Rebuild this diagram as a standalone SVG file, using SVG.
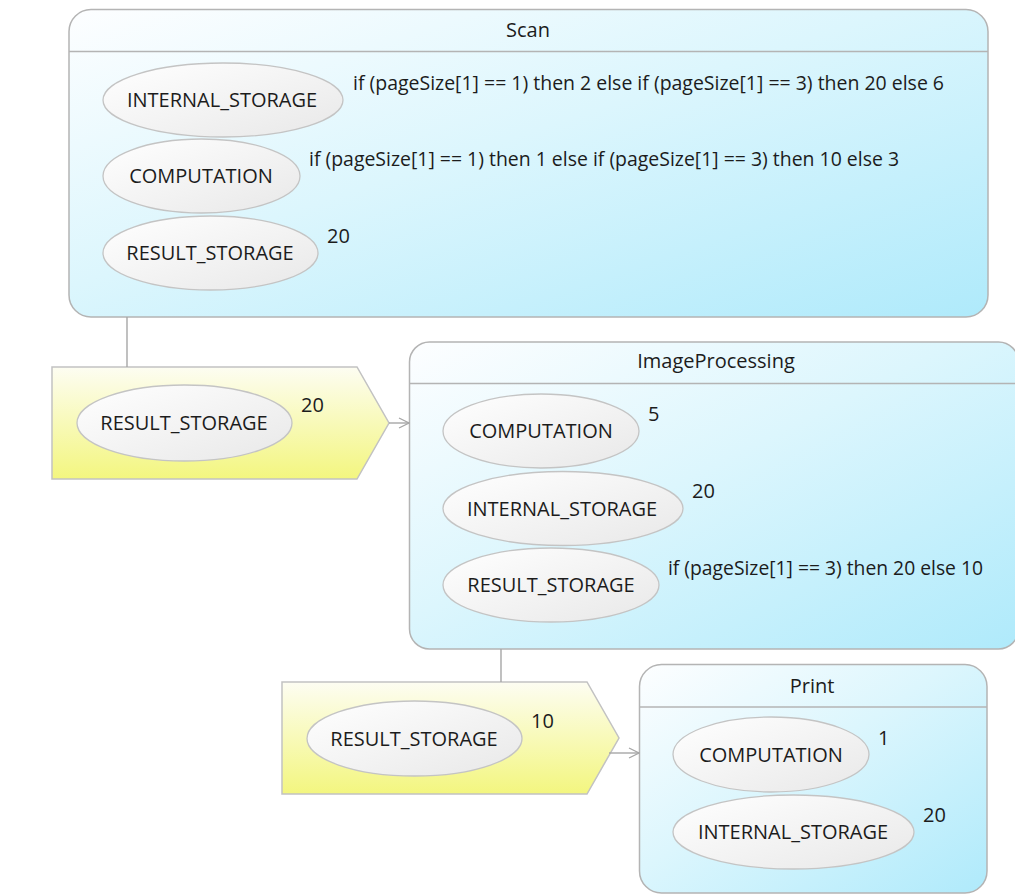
<svg xmlns="http://www.w3.org/2000/svg" width="1015" height="894" viewBox="0 0 1015 894">
  <defs>
    <linearGradient id="gState" x1="0" y1="0" x2="1" y2="1">
      <stop offset="0" stop-color="#fdfeff"/>
      <stop offset="0.45" stop-color="#dcf6fd"/>
      <stop offset="1" stop-color="#afeafb"/>
    </linearGradient>
    <linearGradient id="gRes" x1="0" y1="0" x2="1" y2="1">
      <stop offset="0" stop-color="#ffffff"/>
      <stop offset="1" stop-color="#e8e8e8"/>
    </linearGradient>
    <linearGradient id="gData" x1="0" y1="0" x2="0" y2="1">
      <stop offset="0" stop-color="#fdfdf2"/>
      <stop offset="1" stop-color="#f3f67f"/>
    </linearGradient>
    <marker id="open" viewBox="0 0 12 12" refX="11" refY="6" markerWidth="12" markerHeight="12" markerUnits="userSpaceOnUse" orient="auto">
      <path d="M1,1 L11,6 L1,11" fill="none" stroke="#a6a6a6" stroke-width="1.3"/>
    </marker>
  </defs>
  <style>
    .box { fill: url(#gState); stroke: #b4b4b4; stroke-width: 1.5; }
    .div { stroke: #b4b4b4; stroke-width: 1.5; }
    .res { fill: url(#gRes); stroke: #c4c4c4; stroke-width: 1.3; }
    .data { fill: url(#gData); stroke: #c2c2c2; stroke-width: 1.5; }
    .conn { fill: none; stroke: #a6a6a6; stroke-width: 1.4; }
    text { font-family: "Open Sans", "Noto Sans", "DejaVu Sans", sans-serif; font-size: 20px; fill: #1c1c1c; }
    .c { text-anchor: middle; }
  </style>

  <!-- Scan -->
  <g id="scan">
    <rect class="box" x="69" y="9.5" width="919" height="307.5" rx="22"/>
    <line class="div" x1="69" y1="51.5" x2="988" y2="51.5"/>
    <text class="c" x="528" y="37">Scan</text>
    <g id="scan-internal">
      <ellipse class="res" cx="223" cy="100" rx="120" ry="37"/>
      <text class="c" x="222" y="107">INTERNAL_STORAGE</text>
      <text x="353" y="90" textLength="591" lengthAdjust="spacingAndGlyphs">if (pageSize[1] == 1) then 2 else if (pageSize[1] == 3) then 20 else 6</text>
    </g>
    <g id="scan-computation">
      <ellipse class="res" cx="201.5" cy="176" rx="98.5" ry="37"/>
      <text class="c" x="201" y="183">COMPUTATION</text>
      <text x="309" y="166" textLength="590" lengthAdjust="spacingAndGlyphs">if (pageSize[1] == 1) then 1 else if (pageSize[1] == 3) then 10 else 3</text>
    </g>
    <g id="scan-result">
      <ellipse class="res" cx="210.5" cy="253" rx="107.5" ry="37"/>
      <text class="c" x="210" y="260">RESULT_STORAGE</text>
      <text x="327" y="243">20</text>
    </g>
  </g>

  <!-- data passed from Scan to ImageProcessing -->
  <g id="data-scan">
    <path class="data" d="M52,367 H357 L389,423 L357,479 H52 Z"/>
    <ellipse class="res" cx="184.5" cy="423" rx="107.5" ry="38"/>
    <text class="c" x="184" y="430">RESULT_STORAGE</text>
    <text x="301" y="412">20</text>
  </g>

  <!-- ImageProcessing -->
  <g id="image-processing">
    <rect class="box" x="409.5" y="342" width="609" height="307" rx="20"/>
    <line class="div" x1="409.5" y1="383.5" x2="1015" y2="383.5"/>
    <text class="c" x="716" y="368">ImageProcessing</text>
    <g id="ip-computation">
      <ellipse class="res" cx="541" cy="431" rx="98" ry="37"/>
      <text class="c" x="541" y="438">COMPUTATION</text>
      <text x="648" y="421">5</text>
    </g>
    <g id="ip-internal">
      <ellipse class="res" cx="563" cy="508.5" rx="120" ry="37"/>
      <text class="c" x="562" y="515.5">INTERNAL_STORAGE</text>
      <text x="692" y="498">20</text>
    </g>
    <g id="ip-result">
      <ellipse class="res" cx="551" cy="585" rx="108" ry="37"/>
      <text class="c" x="551" y="592">RESULT_STORAGE</text>
      <text x="668" y="575" textLength="315" lengthAdjust="spacingAndGlyphs">if (pageSize[1] == 3) then 20 else 10</text>
    </g>
  </g>

  <!-- data passed from ImageProcessing to Print -->
  <g id="data-ip">
    <path class="data" d="M282,682 H587 L619,738 L587,794 H282 Z"/>
    <ellipse class="res" cx="414.5" cy="738.5" rx="107.5" ry="37.5"/>
    <text class="c" x="414" y="745.5">RESULT_STORAGE</text>
    <text x="531" y="728">10</text>
  </g>

  <!-- Print -->
  <g id="print">
    <rect class="box" x="639.5" y="664.5" width="347.5" height="228.5" rx="22"/>
    <line class="div" x1="639.5" y1="707" x2="987" y2="707"/>
    <text class="c" x="812" y="693">Print</text>
    <g id="print-computation">
      <ellipse class="res" cx="771" cy="754.5" rx="98" ry="37.5"/>
      <text class="c" x="771" y="761.5">COMPUTATION</text>
      <text x="878" y="745">1</text>
    </g>
    <g id="print-internal">
      <ellipse class="res" cx="793.5" cy="832" rx="120.5" ry="37"/>
      <text class="c" x="793" y="839">INTERNAL_STORAGE</text>
      <text x="923" y="822">20</text>
    </g>
  </g>

  <!-- connectors -->
  <g id="connectors">
    <line class="conn" x1="127" y1="317" x2="127" y2="367"/>
    <line class="conn" x1="389" y1="423" x2="409" y2="423" marker-end="url(#open)"/>
    <line class="conn" x1="501" y1="649" x2="501" y2="682"/>
    <line class="conn" x1="609" y1="753" x2="639" y2="753" marker-end="url(#open)"/>
  </g>
</svg>
